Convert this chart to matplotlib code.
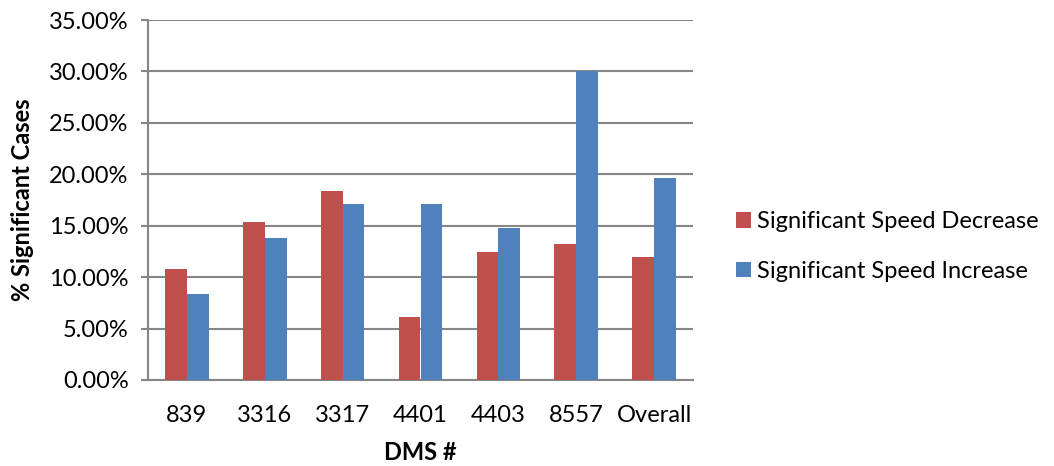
import numpy as np
import matplotlib.pyplot as plt
from matplotlib.ticker import FuncFormatter

plt.rcParams['font.family'] = ['Lato', 'DejaVu Sans']

# data
categories = ['839', '3316', '3317', '4401', '4403', '8557', 'Overall']
speed_decrease = [10.80, 15.39, 18.41, 6.12, 12.49, 13.24, 11.97]
speed_increase = [8.39, 13.79, 17.08, 17.14, 14.74, 30.05, 19.68]

fs = 17

fig = plt.figure(figsize=(10.54, 4.66), dpi=100)
ax = fig.add_axes([148 / 1054, 1 - 380 / 466, 545 / 1054, 360 / 466])

x = np.arange(len(categories))
w = 0.28
ax.bar(x - w / 2, speed_decrease, w, color='#C0504D', label='Significant Speed Decrease', zorder=3)
ax.bar(x + w / 2, speed_increase, w, color='#4F81BD', label='Significant Speed Increase', zorder=3)

ax.set_xlim(-0.5, len(categories) - 0.5)
ax.set_ylim(0, 35)
ax.set_yticks(np.arange(0, 36, 5))
ax.yaxis.set_major_formatter(FuncFormatter(lambda v, p: '%.2f%%' % v))
ax.set_xticks(x)
ax.set_xticklabels(categories)

ax.grid(axis='y', color='#868686', linewidth=1.5, zorder=0)
for s in ['top', 'right']:
    ax.spines[s].set_visible(False)
for s in ['left', 'bottom']:
    ax.spines[s].set_color('#868686')
    ax.spines[s].set_linewidth(1.5)
ax.tick_params(axis='y', length=5, width=1.5, color='#868686', labelsize=fs, pad=9)
ax.tick_params(axis='x', length=0, labelsize=fs, pad=18)

ax.set_ylabel('% Significant Cases', fontsize=fs, fontweight='bold', labelpad=11)
ax.set_xlabel('DMS #', fontsize=fs, fontweight='bold', labelpad=11)

fig.legend(loc='center left', bbox_to_anchor=(736 / 1054, 1 - 246.5 / 466), frameon=False,
           fontsize=fs, handlelength=0.63, handleheight=0.63, handletextpad=0.25,
           labelspacing=1.2, borderpad=0, borderaxespad=0)

fig.savefig('out.png', dpi=100)
